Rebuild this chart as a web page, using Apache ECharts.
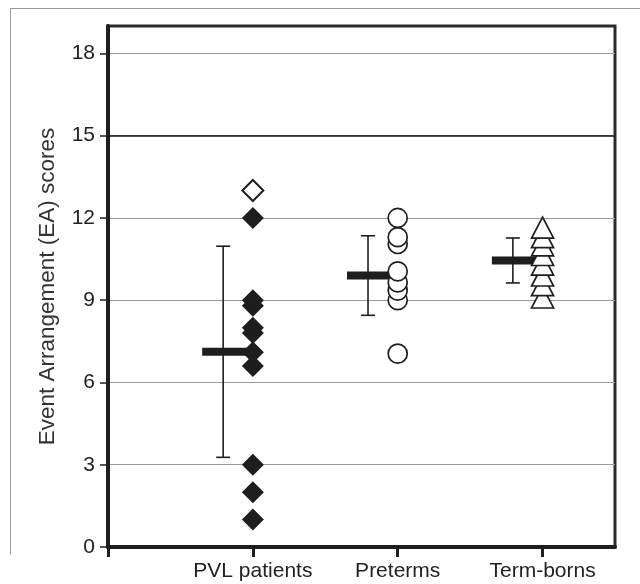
<!DOCTYPE html>
<html>
<head>
<meta charset="utf-8">
<script src="https://cdn.jsdelivr.net/npm/echarts@6/dist/echarts.min.js"></script>
<style>
  html, body { margin: 0; padding: 0; background: #fff; }
  #chart { width: 640px; height: 584px; }
</style>
</head>
<body>
<div id="chart"></div>
<script>
// groups along the x axis (value positions 1, 2, 3)
const groupNames = ['PVL patients', 'Preterms', 'Term-borns']
const yTicks = [0, 3, 6, 9, 12, 15, 18]

// individual scores (ascending so higher marks sit on top)
const pvlFilled = [1.0, 2.0, 3.0, 6.6, 7.1, 7.8, 8.0, 8.8, 9.0, 12.0]
const pvlOpen = [13.0]
const preterms = [7.05, 9.0, 9.35, 9.65, 10.05, 11.05, 11.3, 12.0]
const termBorns = [9.1, 9.55, 9.9, 10.3, 10.65, 11.0, 11.3, 11.65]

// group mean and standard deviation
const groupMeans = [7.12, 9.9, 10.45]
const groupSD = [3.85, 1.45, 0.82]

const ink = '#1e1e1e'
const font = "'Liberation Sans', Arial, sans-serif"

const toPoints = (vals, x) => vals.map((v) => [x, v])

// mean bar + error bar drawn just left of each marker column
const renderMeanSD = (params, api) => {
  const x = api.value(0)
  const m = api.value(1)
  const sd = api.value(2)
  const errX = api.coord([x - 0.205, m])[0]
  const yTop = api.coord([x, m + sd])[1]
  const yBot = api.coord([x, m - sd])[1]
  const [barL, yM] = api.coord([x - 0.35, m])
  const barR = api.coord([x - 0.04, m])[0]
  const cap = 7
  const stroke = { stroke: ink, lineWidth: 1.6 }
  return {
    type: 'group',
    children: [
      { type: 'line', shape: { x1: errX, y1: yTop, x2: errX, y2: yBot }, style: stroke },
      { type: 'line', shape: { x1: errX - cap, y1: yTop, x2: errX + cap, y2: yTop }, style: stroke },
      { type: 'line', shape: { x1: errX - cap, y1: yBot, x2: errX + cap, y2: yBot }, style: stroke },
      { type: 'rect', shape: { x: barL, y: yM - 4, width: barR - barL, height: 8 }, style: { fill: ink } },
    ],
  }
}

const chart = echarts.init(document.getElementById('chart'))

const option = {
  animation: false,
  backgroundColor: '#fff',
  graphic: [
    { type: 'line', shape: { x1: 10, y1: 8.5, x2: 640, y2: 8.5 }, style: { stroke: '#9a9a9a', lineWidth: 1 }, z: -1 },
    { type: 'line', shape: { x1: 10.5, y1: 8, x2: 10.5, y2: 555 }, style: { stroke: '#9a9a9a', lineWidth: 1 }, z: -1 },
  ],
  grid: {
    left: 108,
    right: 25,
    top: 26,
    bottom: 37,
    show: true,
    borderColor: '#2a2a2a',
    borderWidth: 3,
    backgroundColor: '#fff',
  },
  xAxis: {
    type: 'value',
    min: 0,
    max: 3.5,
    interval: 1,
    splitLine: { show: false },
    axisLine: { show: true, lineStyle: { color: ink, width: 4 } },
    axisTick: {
      show: true,
      customValues: [0, 1, 2, 3],
      length: 10,
      lineStyle: { color: ink, width: 3 },
    },
    axisLabel: {
      customValues: [1, 2, 3],
      formatter: (v) => groupNames[Math.round(v) - 1] || '',
      margin: 14,
      fontSize: 21,
      fontFamily: font,
      color: '#222',
    },
  },
  yAxis: {
    type: 'value',
    min: 0,
    max: 19,
    interval: 3,
    name: 'Event Arrangement (EA) scores',
    nameLocation: 'middle',
    nameGap: 49,
    nameTextStyle: { fontSize: 22.5, fontFamily: font, color: '#333' },
    axisLine: { show: true, lineStyle: { color: ink, width: 4 } },
    axisTick: {
      show: true,
      customValues: yTicks,
      length: 8,
      lineStyle: { color: ink, width: 1.5 },
    },
    axisLabel: {
      customValues: yTicks,
      margin: 13,
      fontSize: 21,
      fontFamily: font,
      color: '#222',
    },
    splitLine: { show: true, lineStyle: { color: '#9a9a9a', width: 1 } },
  },
  series: [
    {
      name: 'mean',
      type: 'custom',
      renderItem: renderMeanSD,
      clip: false,
      z: 3,
      data: groupMeans.map((m, i) => [i + 1, m, groupSD[i]]),
      markLine: {
        silent: true,
        symbol: 'none',
        label: { show: false },
        lineStyle: { color: '#111', width: 1.5, type: 'solid' },
        data: [{ yAxis: 15 }],
      },
    },
    {
      name: 'PVL patients',
      type: 'scatter',
      symbol: 'diamond',
      symbolSize: 22,
      z: 4,
      itemStyle: { color: ink, opacity: 1 },
      data: toPoints(pvlFilled, 1),
    },
    {
      name: 'PVL open',
      type: 'scatter',
      symbol: 'diamond',
      symbolSize: 21,
      z: 4,
      itemStyle: { color: '#fff', borderColor: ink, borderWidth: 2, opacity: 1 },
      data: toPoints(pvlOpen, 1),
    },
    {
      name: 'Preterms',
      type: 'scatter',
      symbol: 'circle',
      symbolSize: 19,
      z: 4,
      itemStyle: { color: '#fff', borderColor: ink, borderWidth: 1.7, opacity: 1 },
      data: toPoints(preterms, 2),
    },
    {
      name: 'Term-borns',
      type: 'scatter',
      symbol: 'triangle',
      symbolSize: [22, 21],
      z: 4,
      itemStyle: { color: '#fff', borderColor: ink, borderWidth: 1.7, opacity: 1 },
      data: toPoints(termBorns, 3),
    },
  ],
}

chart.setOption(option)
</script>
</body>
</html>
